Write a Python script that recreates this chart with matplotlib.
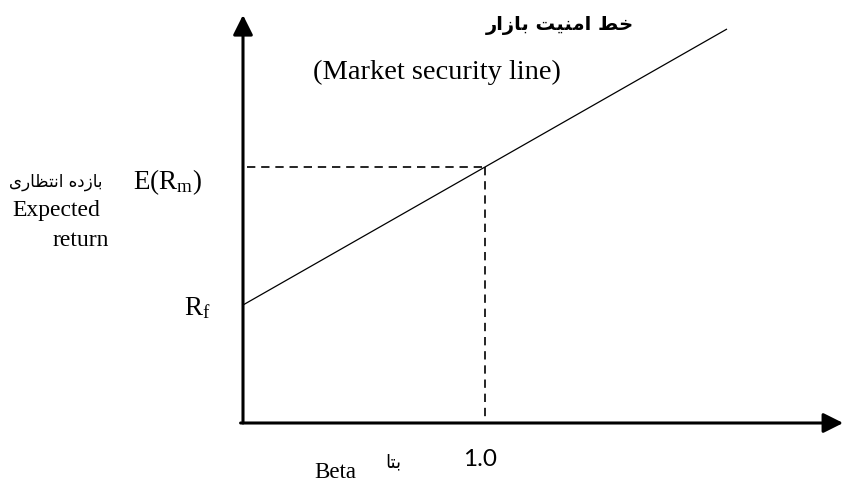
import matplotlib
matplotlib.use("Agg")
import matplotlib.pyplot as plt

# ---- data ----
rf = 1.18            # risk-free return (intercept)
erm = 2.56           # expected market return
beta_m = 1.0         # market beta
line_beta = [0.0, 2.0]
line_return = [rf, rf + (erm - rf) * 2.0]
x_axis_end = 2.48
y_axis_end = 4.08

def farsi(codes):
    # presentation-form glyphs, written in visual (left-to-right) order
    return "".join(chr(c) for c in reversed(codes))

title_fa = farsi([0xFEA7, 0xFEC2, 0x20, 0xFE8D, 0xFEE3, 0xFEE8, 0xFBFF, 0xFE96,
                  0x20, 0xFE91, 0xFE8E, 0xFEAF, 0xFE8D, 0xFEAD])
ylabel_fa = farsi([0xFE91, 0xFE8E, 0xFEAF, 0xFEA9, 0xFEE9, 0x20, 0xFE8D, 0xFEE7,
                   0xFE98, 0xFEC8, 0xFE8E, 0xFEAD, 0xFBFC])
xlabel_fa = farsi([0xFE91, 0xFE98, 0xFE8E])

plt.rcParams['mathtext.fontset'] = 'custom'
plt.rcParams['mathtext.rm'] = 'Liberation Serif'
plt.rcParams['mathtext.it'] = 'Liberation Serif:italic'

fig = plt.figure(figsize=(8.43, 4.82), dpi=100)
ax = fig.add_axes([0, 0, 1, 1])
ax.set_xlim(-243 / 242, 600 / 242)
ax.set_ylim(-0.59, 4.23)
ax.axis('off')

# axes with arrows
arrow = dict(arrowstyle='-|>,head_length=12,head_width=6', mutation_scale=1,
             color='black', lw=2.2, shrinkA=0, shrinkB=0)
ax.annotate('', xy=(0, y_axis_end), xytext=(0, 0), arrowprops=arrow)
ax.annotate('', xy=(x_axis_end, 0), xytext=(-0.01, 0), arrowprops=arrow)

# security market line
ax.plot(line_beta, line_return, color='black', lw=0.9, solid_capstyle='butt')

# dashed guides
ax.plot([0.017, beta_m], [erm, erm], color='black', lw=1.2, ls=(0, (5, 3.5)))
ax.plot([beta_m, beta_m], [erm, 0], color='black', lw=1.2, ls=(0, (5, 3.5)))

serif = 'Liberation Serif'
ax.text(1.31, 3.98, title_fa, fontsize=14, fontweight='bold',
        family=['DejaVu Sans'], ha='center', va='center')
ax.text(0.80, 3.51, '(Market security line)', fontsize=20.5, family=serif,
        ha='center', va='center')
ax.text(-0.169, 2.41, r'E(R$_\mathrm{m}$)', fontsize=19.5, family=serif,
        ha='right', va='center')
ax.text(-0.579, 2.41, ylabel_fa, fontsize=12, family=['DejaVu Sans'],
        ha='right', va='center')
ax.text(-0.77, 2.13, 'Expected', fontsize=17, family=serif, ha='center', va='center')
ax.text(-0.67, 1.83, 'return', fontsize=17, family=serif, ha='center', va='center')
ax.text(-0.19, 1.15, r'R$_\mathrm{f}$', fontsize=19.5, family=serif,
        ha='center', va='center')
ax.text(0.38, -0.49, 'Beta', fontsize=16.5, family=serif, ha='center', va='center')
ax.text(0.62, -0.39, xlabel_fa, fontsize=13, family=['DejaVu Sans'],
        ha='center', va='center')
ax.text(beta_m - 0.02, -0.37, '1.0', fontsize=17.5, family='Lato',
        ha='center', va='center')

fig.savefig('out.png', dpi=100)
